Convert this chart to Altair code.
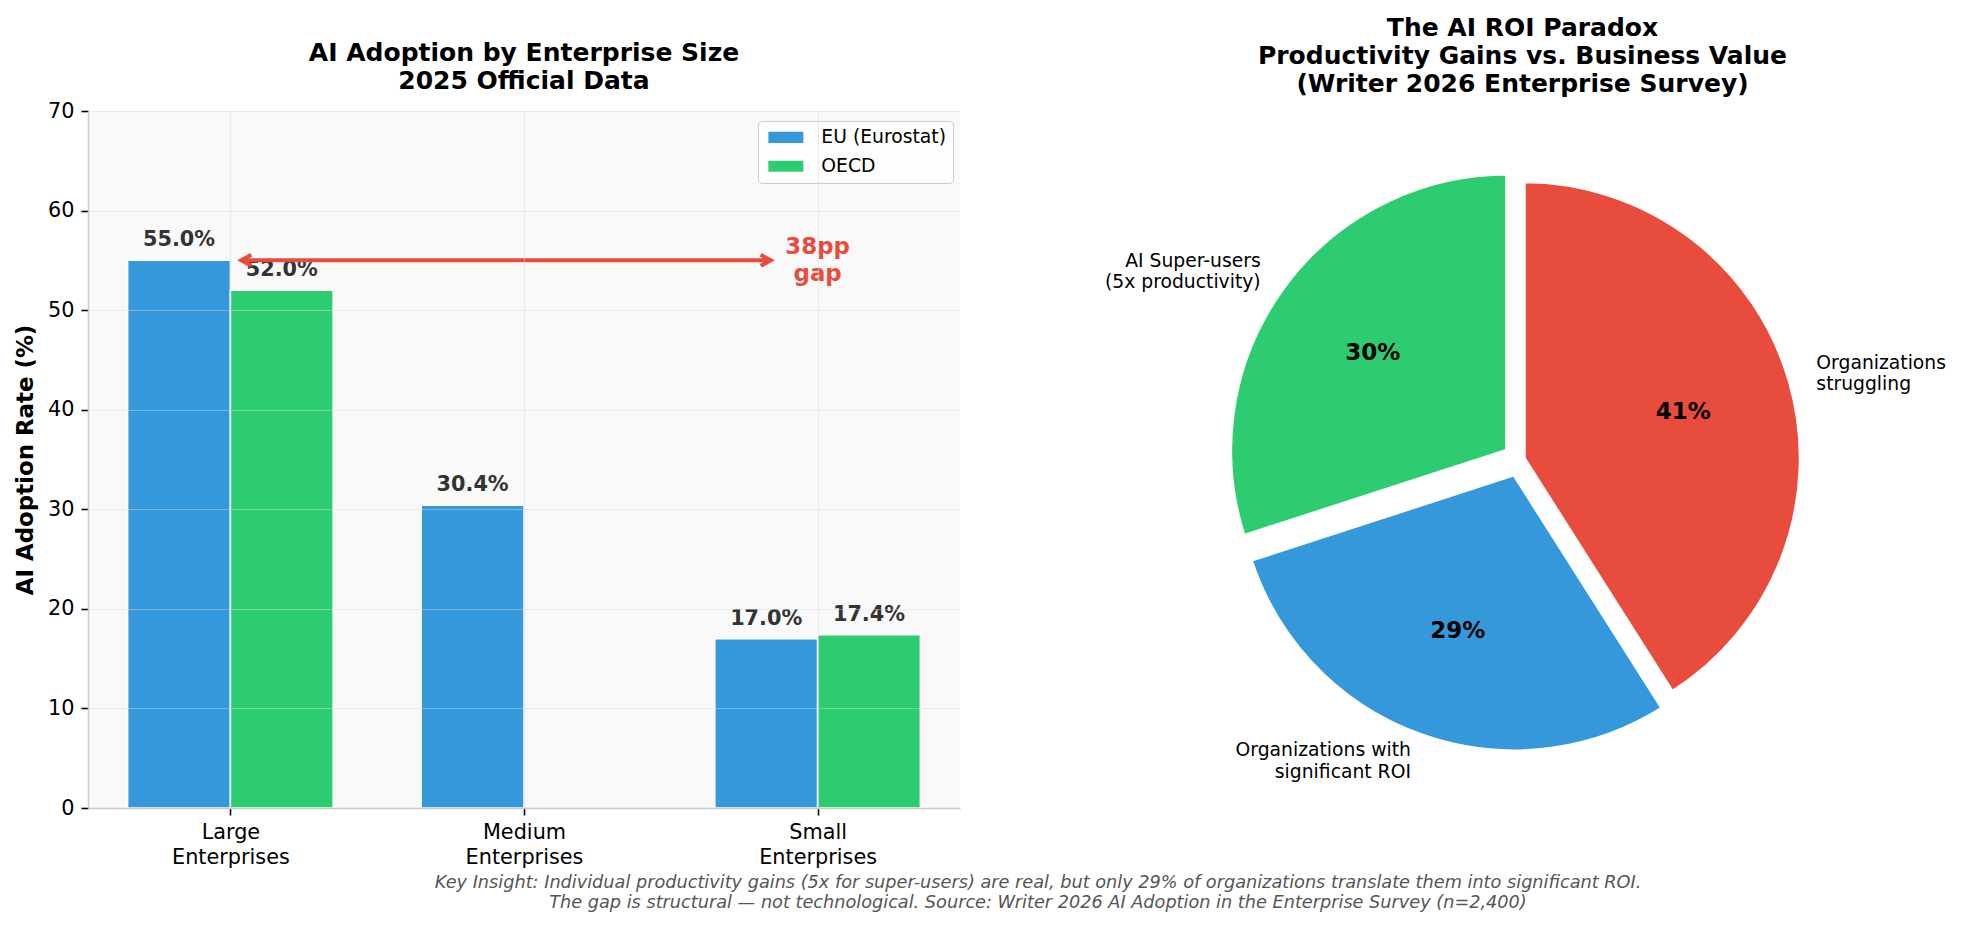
import json
import altair as alt
import pandas as pd

# ---------------- data ----------------
CATEGORIES = ["Large\nEnterprises", "Medium\nEnterprises", "Small\nEnterprises"]
SERIES = ["EU (Eurostat)", "OECD"]
EU_VALUES = [55.0, 30.4, 17.0]
OECD_VALUES = [52.0, None, 17.4]
Y_TICKS = [0, 10, 20, 30, 40, 50, 60, 70]

GAP_LABEL = "38pp\ngap"
GAP_AT = 2            # category index where the gap label sits
ARROW_X = [0.037, 1.84]
ARROW_Y = 55.0

PIE_LABELS = ["AI Super-users\n(5x productivity)", "Organizations with\nsignificant ROI",
              "Organizations\nstruggling"]
PIE_SHARES = [30, 29, 41]
PIE_PCT = ["30%", "29%", "41%"]

LEFT_TITLE = ["AI Adoption by Enterprise Size", "2025 Official Data"]
RIGHT_TITLE = ["The AI ROI Paradox", "Productivity Gains vs. Business Value",
               "(Writer 2026 Enterprise Survey)"]
Y_TITLE = "AI Adoption Rate (%)"
FOOTNOTE = ("Key Insight: Individual productivity gains (5x for super-users) are real, but only 29% of "
            "organizations translate them into significant ROI.\n"
            "The gap is structural \u2014 not technological. Source: Writer 2026 AI Adoption in the "
            "Enterprise Survey (n=2,400)")

# ---------------- styles ----------------
BLUE, GREEN, RED = "#3498db", "#2ecc71", "#e74c3c"
PIE_COLORS = [GREEN, BLUE, RED]
PIE_EXPLODE = [0.055, 0.057, 0.016]
BAR_WIDTH = 0.35
W1, H = 872, 697
W2 = 860
PIE_R = 277
PIE_CX, PIE_CY = W2 / 2, H / 2
FONT = "DejaVu Sans"
GRID = dict(grid=True, gridColor="#d9d9d9", gridOpacity=0.45, gridWidth=1.2)
PIE_LAB_SIZE, PIE_LAB_LH = 18.75, 21.5
GAP_SIZE, GAP_LH = 22.9, 27.5

# ---------------- tables ----------------
rows = []
for i, _ in enumerate(CATEGORIES):
    for s, vals in enumerate([EU_VALUES, OECD_VALUES]):
        if vals[i] is None:
            continue
        rows.append({"idx": i, "s": s, "series": SERIES[s], "value": vals[i]})
bars_df = pd.DataFrame(rows)

label_lists = json.dumps([c.split("\n") for c in CATEGORIES])

xscale = alt.Scale(domain=[-0.485, 2.485], nice=False, zero=False)
yscale = alt.Scale(domain=[0, 70], nice=False)

xaxis = alt.Axis(values=list(range(len(CATEGORIES))), labelExpr=f"{label_lists}[datum.value]",
                 title=None, labelFontSize=20.8, labelColor="black", labelPadding=7,
                 labelLineHeight=25, labelBaseline="top", labelOverlap=False, labelAngle=0,
                 tickColor="black", tickSize=7, tickWidth=1.6, domainColor="#cccccc",
                 domainWidth=1.6, zindex=1, **GRID)
yaxis = alt.Axis(values=Y_TICKS, title=Y_TITLE, titleFontSize=22.9, titleFontWeight="bold",
                 titleColor="black", titlePadding=10, labelFontSize=20.8, labelColor="black",
                 labelPadding=7, tickColor="black", tickSize=7, tickWidth=1.6,
                 domainColor="#cccccc", domainWidth=1.6, zindex=1, **GRID)

legend = alt.Legend(title=None, orient="none", legendX=670, legendY=10,
                    symbolType="M-0.75,-0.69H3.625V0.69H-0.75Z", symbolSize=256,
                    symbolStrokeWidth=0, labelOffset=37.6,
                    labelFontSize=18.75, labelColor="black", padding=7, rowPadding=8.8,
                    strokeColor="#cccccc", fillColor="rgba(255,255,255,0.85)", cornerRadius=4)

bar_base = alt.Chart(bars_df).transform_calculate(
    x0=f"datum.idx + (datum.s - 1) * {BAR_WIDTH}",
    x1=f"datum.idx + datum.s * {BAR_WIDTH}",
    xm=f"datum.idx + (datum.s - 0.5) * {BAR_WIDTH}",
    lab="format(datum.value, '.1f') + '%'",
)

bars = bar_base.mark_bar(stroke="white", strokeWidth=1.5).encode(
    x=alt.X("x0:Q", scale=xscale, axis=xaxis),
    x2="x1:Q",
    y=alt.Y("value:Q", scale=yscale, axis=yaxis, stack=False),
    y2=alt.datum(0),
    color=alt.Color("series:N", scale=alt.Scale(domain=SERIES, range=[BLUE, GREEN]), legend=legend),
)

bar_labels = bar_base.mark_text(dy=-14, baseline="alphabetic", fontSize=20.8, fontWeight="bold",
                                color="#333333").encode(
    x="xm:Q", y="value:Q", text="lab:N")

arrow_df = pd.DataFrame({"xs": [ARROW_X[0]], "xe": [ARROW_X[1]], "y": [ARROW_Y]})
arrow = alt.Chart(arrow_df).mark_rule(color=RED, strokeWidth=4).encode(
    x="xs:Q", x2="xe:Q", y="y:Q")

heads_df = pd.DataFrame({"x": ARROW_X, "y": [ARROW_Y, ARROW_Y], "ang": [180, 0]})
heads = alt.Chart(heads_df).mark_point(shape="M-2,-1.1L0,0L-2,1.1", filled=False, size=100,
                                       strokeWidth=4, color=RED, opacity=1,
                                       strokeJoin="miter").encode(
    x="x:Q", y="y:Q", angle=alt.Angle("ang:Q", scale=None))

gap_df = pd.DataFrame({"x": [GAP_AT], "y": [ARROW_Y], "t": [GAP_LABEL]})
gap_text = alt.Chart(gap_df).mark_text(align="center", baseline="middle", lineBreak="\n",
                                       fontSize=GAP_SIZE, fontWeight="bold", color=RED,
                                       lineHeight=GAP_LH, dy=-GAP_LH / 2).encode(
    x="x:Q", y="y:Q", text="t:N")

foot_df = pd.DataFrame({"t": [FOOTNOTE]})
foot = alt.Chart(foot_df).mark_text(align="center", baseline="alphabetic", lineBreak="\n",
                                    fontSize=17.7, fontStyle="italic", color="#555555",
                                    lineHeight=20.5).encode(
    x=alt.value(950), y=alt.value(776.7), text="t:N")

left = alt.layer(bars, bar_labels, arrow, heads, gap_text, foot).properties(
    width=W1, height=H,
    title=alt.TitleParams(LEFT_TITLE, fontSize=25, fontWeight="bold", lineHeight=28,
                          color="black", anchor="middle", baseline="bottom", offset=-19),
    view=alt.ViewBackground(fill="#f9f9f9", strokeWidth=0),
)

# ---------------- pie ----------------
pie_df = pd.DataFrame({"label": PIE_LABELS, "share": PIE_SHARES, "pct": PIE_PCT,
                       "order": list(range(len(PIE_LABELS))), "explode": PIE_EXPLODE})

pie_base = alt.Chart(pie_df).transform_joinaggregate(total="sum(share)").transform_window(
    cum="sum(share)", sort=[alt.SortField("order")]
).transform_calculate(
    a0="2 * PI * (1 - datum.cum / datum.total)",
    a1="2 * PI * (1 - (datum.cum - datum.share) / datum.total)",
    mid="(datum.a0 + datum.a1) / 2",
    cx=f"{PIE_CX} + datum.explode * {PIE_R} * sin(datum.mid)",
    cy=f"{PIE_CY} - datum.explode * {PIE_R} * cos(datum.mid)",
    px=f"datum.cx + 0.6 * {PIE_R} * sin(datum.mid)",
    py=f"datum.cy - 0.6 * {PIE_R} * cos(datum.mid)",
    lx=f"datum.cx + 1.1 * {PIE_R} * sin(datum.mid)",
    ly=f"datum.cy - 1.1 * {PIE_R} * cos(datum.mid)",
    side="sin(datum.mid) < 0 ? 'l' : 'r'",
)

arcs = pie_base.mark_arc(radius=PIE_R, stroke="white", strokeWidth=4).encode(
    theta=alt.Theta("a0:Q", scale=None),
    theta2="a1:Q",
    x=alt.X("cx:Q", scale=None),
    y=alt.Y("cy:Q", scale=None),
    color=alt.Color("label:N", scale=alt.Scale(domain=PIE_LABELS, range=PIE_COLORS), legend=None),
)

pcts = pie_base.mark_text(fontSize=23, fontWeight="bold", color="black", align="center",
                          baseline="middle").encode(
    x=alt.X("px:Q", scale=None), y=alt.Y("py:Q", scale=None), text="pct:N")

lab_left = pie_base.transform_filter("datum.side == 'l'").mark_text(
    fontSize=PIE_LAB_SIZE, lineBreak="\n", lineHeight=PIE_LAB_LH, baseline="middle",
    align="right", color="black", dy=-PIE_LAB_LH / 2).encode(
    x=alt.X("lx:Q", scale=None), y=alt.Y("ly:Q", scale=None), text="label:N")
lab_right = pie_base.transform_filter("datum.side == 'r'").mark_text(
    fontSize=PIE_LAB_SIZE, lineBreak="\n", lineHeight=PIE_LAB_LH, baseline="middle",
    align="left", color="black", dy=-PIE_LAB_LH / 2).encode(
    x=alt.X("lx:Q", scale=None), y=alt.Y("ly:Q", scale=None), text="label:N")

right = alt.layer(arcs, pcts, lab_left, lab_right).properties(
    width=W2, height=H,
    title=alt.TitleParams(RIGHT_TITLE, fontSize=25, fontWeight="bold", lineHeight=28,
                          color="black", anchor="middle", baseline="bottom", offset=-10.5, dx=3),
    view=alt.ViewBackground(strokeWidth=0),
)

chart = alt.hconcat(left, right, spacing=129.5, bounds="flush").resolve_scale(
    x="independent", y="independent", color="independent"
).properties(
    padding={"left": 6, "top": 7, "right": 0, "bottom": 5}
).configure(font=FONT)

chart.save("out.html", embed_options={"renderer": "svg", "actions": False})
